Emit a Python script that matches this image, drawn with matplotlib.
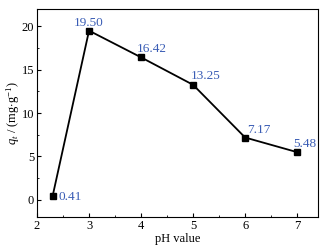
import matplotlib
matplotlib.use("Agg")
import matplotlib.pyplot as plt
from matplotlib.ticker import MultipleLocator

ph = [2.3, 3, 4, 5, 6, 7]
qt = [0.41, 19.50, 16.42, 13.25, 7.17, 5.48]
labels = ["0.41", "19.50", "16.42", "13.25", "7.17", "5.48"]
offsets = [(6, -4), (0, 5), (-4, 5), (-2, 6), (2, 5), (-4, 5)]
has = ["left", "center", "left", "left", "left", "left"]

plt.rcParams['font.family'] = ['Liberation Serif', 'DejaVu Serif']
plt.rcParams['mathtext.fontset'] = 'custom'
plt.rcParams['mathtext.rm'] = 'Liberation Serif'
plt.rcParams['mathtext.it'] = 'Liberation Serif:italic'

fig = plt.figure(figsize=(3.27, 2.49), dpi=100)
ax = fig.add_axes([37/327, 1-217/249, (318-37)/327, (217-9)/249])
ax.plot(ph, qt, color='black', lw=1.3, marker='s', ms=4)
blue = '#3a5db5'
for x, y, t, off, ha in zip(ph, qt, labels, offsets, has):
    ax.annotate(t, (x, y), xytext=off, textcoords='offset pixels', ha=ha,
                va='baseline', color=blue, fontsize=9.5)
ax.set_xlim(2, 7.4)
ax.set_ylim(-2, 22)
ax.xaxis.set_major_locator(MultipleLocator(1))
ax.xaxis.set_minor_locator(MultipleLocator(0.5))
ax.yaxis.set_major_locator(MultipleLocator(5))
ax.yaxis.set_minor_locator(MultipleLocator(2.5))
ax.tick_params(direction='in', which='both', labelsize=9, pad=2)
ax.tick_params(which='major', length=3)
ax.tick_params(which='minor', length=1.5)
ax.set_xlabel('pH value', fontsize=9, labelpad=1)
ax.set_ylabel(r'$q_t$ / (mg$\cdot$g$^{-1}$)', fontsize=9, labelpad=1)
ax.yaxis.set_label_coords(-0.055, 0.5)
for s in ax.spines.values():
    s.set_linewidth(0.8)
fig.savefig('out.png', dpi=100)
